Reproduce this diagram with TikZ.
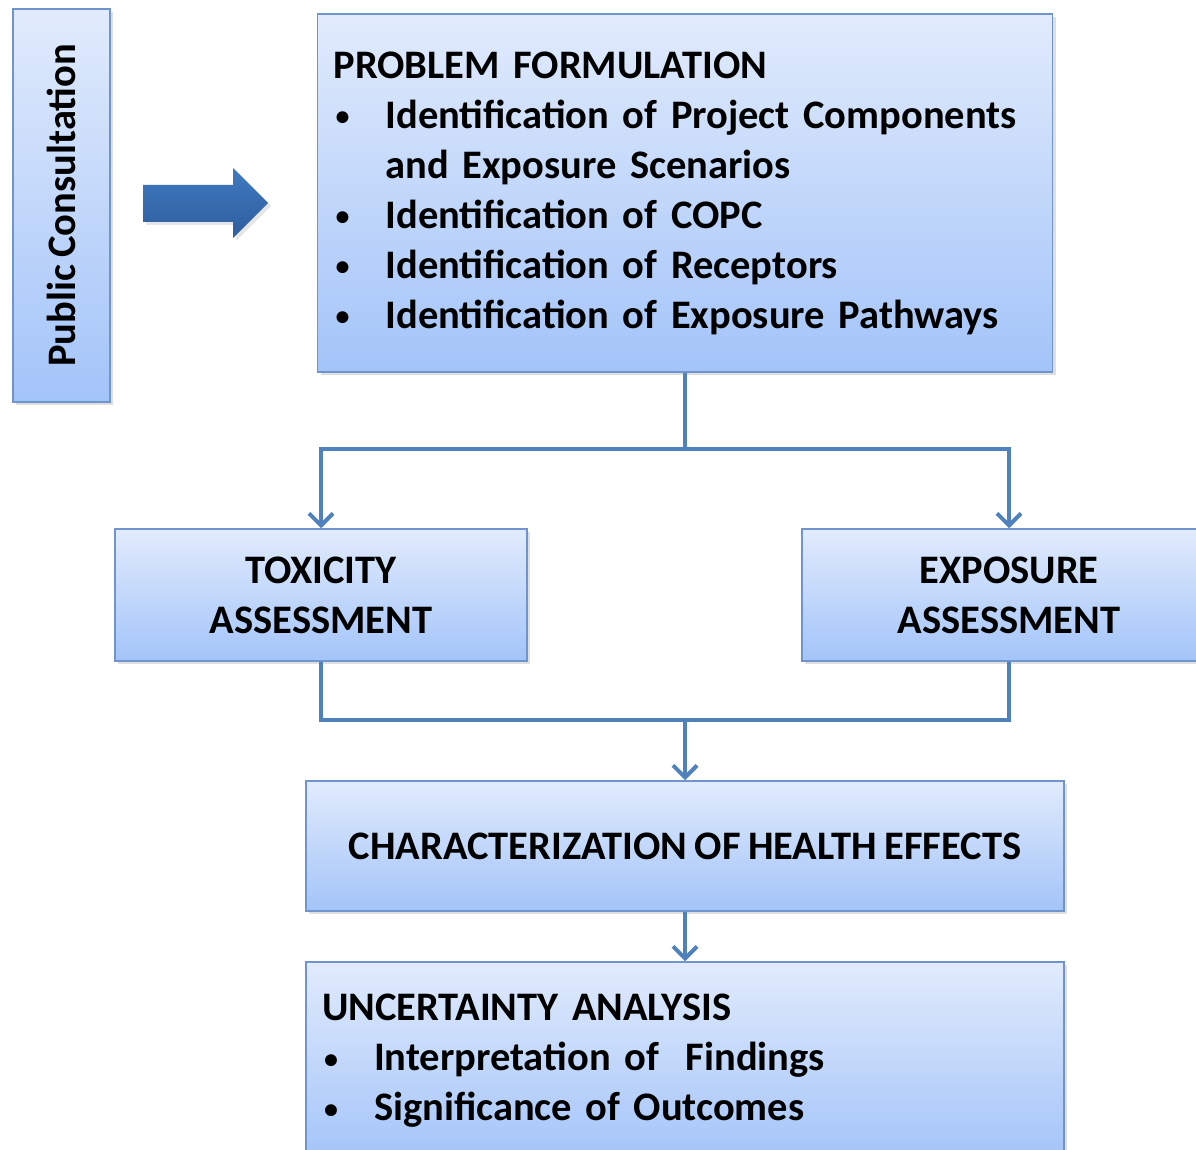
\documentclass[tikz,border=0pt]{standalone}
\usepackage{fontspec}
\setmainfont{Carlito}[WordSpace=0.8]
\usetikzlibrary{arrows.meta, shadows}

\definecolor{boxtop}{HTML}{E1EBFC}
\definecolor{boxbot}{HTML}{A3C4F9}
\definecolor{boxline}{HTML}{6F95CC}
\definecolor{flowline}{HTML}{4F81BD}
\definecolor{feedtop}{HTML}{4079C0}
\definecolor{feedbot}{HTML}{2E5E9E}

% bullet followed by the hanging gap
\newcommand{\itm}{\makebox[52pt][l]{\hspace{2pt}\raisebox{2.5pt}{\fontsize{28}{28}\selectfont\textbullet}}}

\begin{document}
\begin{tikzpicture}[
        x=1pt, y=-1pt,
        stage/.style={draw=boxline, line width=1.5pt, top color=boxtop, bottom color=boxbot,
            drop shadow={shadow xshift=3pt, shadow yshift=-3pt, opacity=0.25},
            font=\fontsize{40.5}{50}\selectfont\bfseries, inner sep=0pt},
        flow/.style={draw=flowline, line width=4pt, -{Straight Barb[length=12pt, width=24pt]}},
        link/.style={draw=flowline, line width=4pt}
    ]
    \useasboundingbox (0,0) rectangle (1196,1150);

    % Side box and block arrow
    \node[stage, minimum width=97pt, minimum height=393pt] (pc) at (61.5,205.5) {};
    \node[rotate=90, font=\fontsize{40.5}{50}\selectfont\bfseries] (pctxt) at (pc.center) {Public Consultation};
    \path[top color=feedtop, bottom color=feedbot, drop shadow={shadow xshift=3pt, shadow yshift=-3pt, opacity=0.2}]
        (143,185) -- (233,185) -- (233,168) -- (268,203) -- (233,238) -- (233,222) -- (143,222) -- cycle;

    % Stages
    \node[stage, minimum width=735pt, minimum height=358pt, text width=703pt, align=left] (pf) at (685,193) {%
        PROBLEM FORMULATION\\
        \itm Identification of Project Components\\
        \hspace*{52pt}and Exposure Scenarios\\
        \itm Identification of COPC\\
        \itm Identification of Receptors\\
        \itm Identification of Exposure Pathways};
    \node[stage, minimum width=412pt, minimum height=132pt, align=center] (tox) at (321,595) {TOXICITY\\ASSESSMENT};
    \node[stage, minimum width=414pt, minimum height=132pt, align=center] (exp) at (1009,595) {EXPOSURE\\ASSESSMENT};
    \node[stage, minimum width=758pt, minimum height=130pt, align=center] (hc) at (685,846) {CHARACTERIZATION OF HEALTH EFFECTS};
    \node[stage, minimum width=758pt, minimum height=198pt, text width=726pt, align=left] (ua) at (685,1061) {%
        UNCERTAINTY ANALYSIS\\
        \itm Interpretation of~ Findings\\
        \itm Significance of Outcomes};

    % Connectors
    \coordinate (fork) at (pf.south |- 0,449);
    \coordinate (join) at (pf.south |- 0,720);
    \draw[link] (pf.south) -- (fork);
    \draw[flow] (fork) -| (tox.north);
    \draw[flow] (fork) -| (exp.north);
    \draw[link] (tox.south) |- (join) -| (exp.south);
    \draw[flow] (join) -- (hc.north);
    \draw[flow] (hc.south) -- (ua.north);
\end{tikzpicture}
\end{document}
